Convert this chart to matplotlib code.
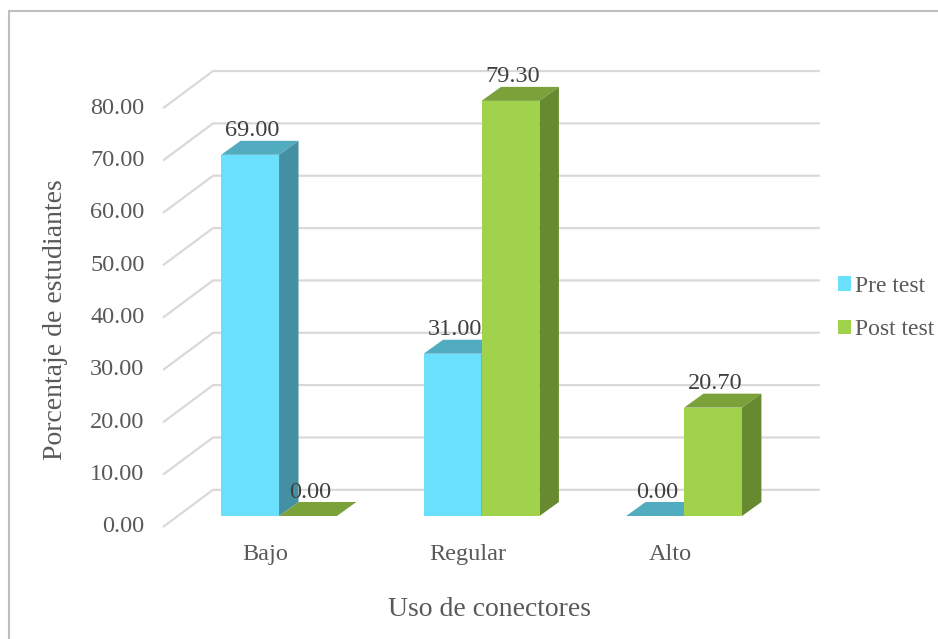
import matplotlib
matplotlib.use("Agg")
import matplotlib.pyplot as plt
from matplotlib.patches import Polygon, Rectangle, Patch

# datos
categorias = ["Bajo", "Regular", "Alto"]
pre_test = [69.00, 31.00, 0.00]
post_test = [0.00, 79.30, 20.70]
series = ["Pre test", "Post test"]
ticks = [0, 10, 20, 30, 40, 50, 60, 70, 80]

plt.rcParams["font.family"] = ["Liberation Serif", "DejaVu Serif"]
gris = "#595959"
tam = 17.5

# colores: frente, tapa, lado
col_pre = ("#6BE0FC", "#52ACC0", "#458FA2")
col_post = ("#A0D24C", "#7BA23A", "#678A30")

fig = plt.figure(figsize=(9.38, 6.39), dpi=100)
ax = fig.add_axes([0, 0, 1, 1])
ax.set_xlim(-1.378, 3.254)
ax.set_ylim(-23.5, 98.57)
ax.axis("off")

ancho = 0.286
prof_x, prof_y = 0.096, 2.67      # profundidad de las barras
pared_x, pared_y = 0.247, 5.0     # pared del fondo
diag_x, diag_y = -0.573, -2.1     # extremo delantero de las diagonales
fin_x = 2.67

# cuadricula pseudo 3D
for t in ticks:
    ax.plot([diag_x, -0.326, fin_x], [t + diag_y, t + pared_y, t + pared_y],
            color="#D9D9D9", lw=1.6, zorder=1, solid_capstyle="butt")
    ax.text(-0.665, t + diag_y, f"{t:.2f}", ha="right", va="center",
            fontsize=tam, color=gris)


def barra(x0, v, cols):
    ax.bar(x0, v, width=ancho, align="edge", color=cols[0], zorder=3)
    tapa = [(x0, v), (x0 + ancho, v), (x0 + ancho + prof_x, v + prof_y), (x0 + prof_x, v + prof_y)]
    ax.add_patch(Polygon(tapa, closed=True, facecolor=cols[1], edgecolor="none", zorder=3))
    if v > 0:
        lado = [(x0 + ancho, 0), (x0 + ancho + prof_x, prof_y),
                (x0 + ancho + prof_x, v + prof_y), (x0 + ancho, v)]
        ax.add_patch(Polygon(lado, closed=True, facecolor=cols[2], edgecolor="none", zorder=3))
    ax.text(x0 + ancho / 2 + 0.01, v + prof_y + 1.9, f"{v:.2f}", ha="center", va="center",
            fontsize=tam, color="#404040", zorder=5)


for i in range(len(categorias)):
    barra(i - ancho, pre_test[i], col_pre)
    barra(i, post_test[i], col_post)
    ax.text(i - 0.07, -7.45, categorias[i], ha="center", va="center", fontsize=tam, color=gris)

fig.text(490 / 938, 1 - 609 / 639, "Uso de conectores", ha="center", va="center",
         fontsize=20, color=gris)
fig.text(56 / 938, 1 - 320 / 639, "Porcentaje de estudiantes", rotation=90,
         ha="center", va="center", fontsize=20, color=gris)

# marco del grafico
fig.patches.append(Rectangle((9 / 938, -0.1), 1.2, 1.1 - 11 / 639, transform=fig.transFigure,
                             fill=False, edgecolor="#BFBFBF", lw=1.5))

manejadores = [Patch(facecolor=col_pre[0]), Patch(facecolor=col_post[0])]
fig.legend(manejadores, series, loc="center left", bbox_to_anchor=(821 / 938, 1 - 308 / 639),
           frameon=False, fontsize=17, handlelength=0.55, handleheight=0.55,
           handletextpad=0.2, labelspacing=0.95, labelcolor=gris, borderpad=0.2)

fig.savefig("out.png", dpi=100)
